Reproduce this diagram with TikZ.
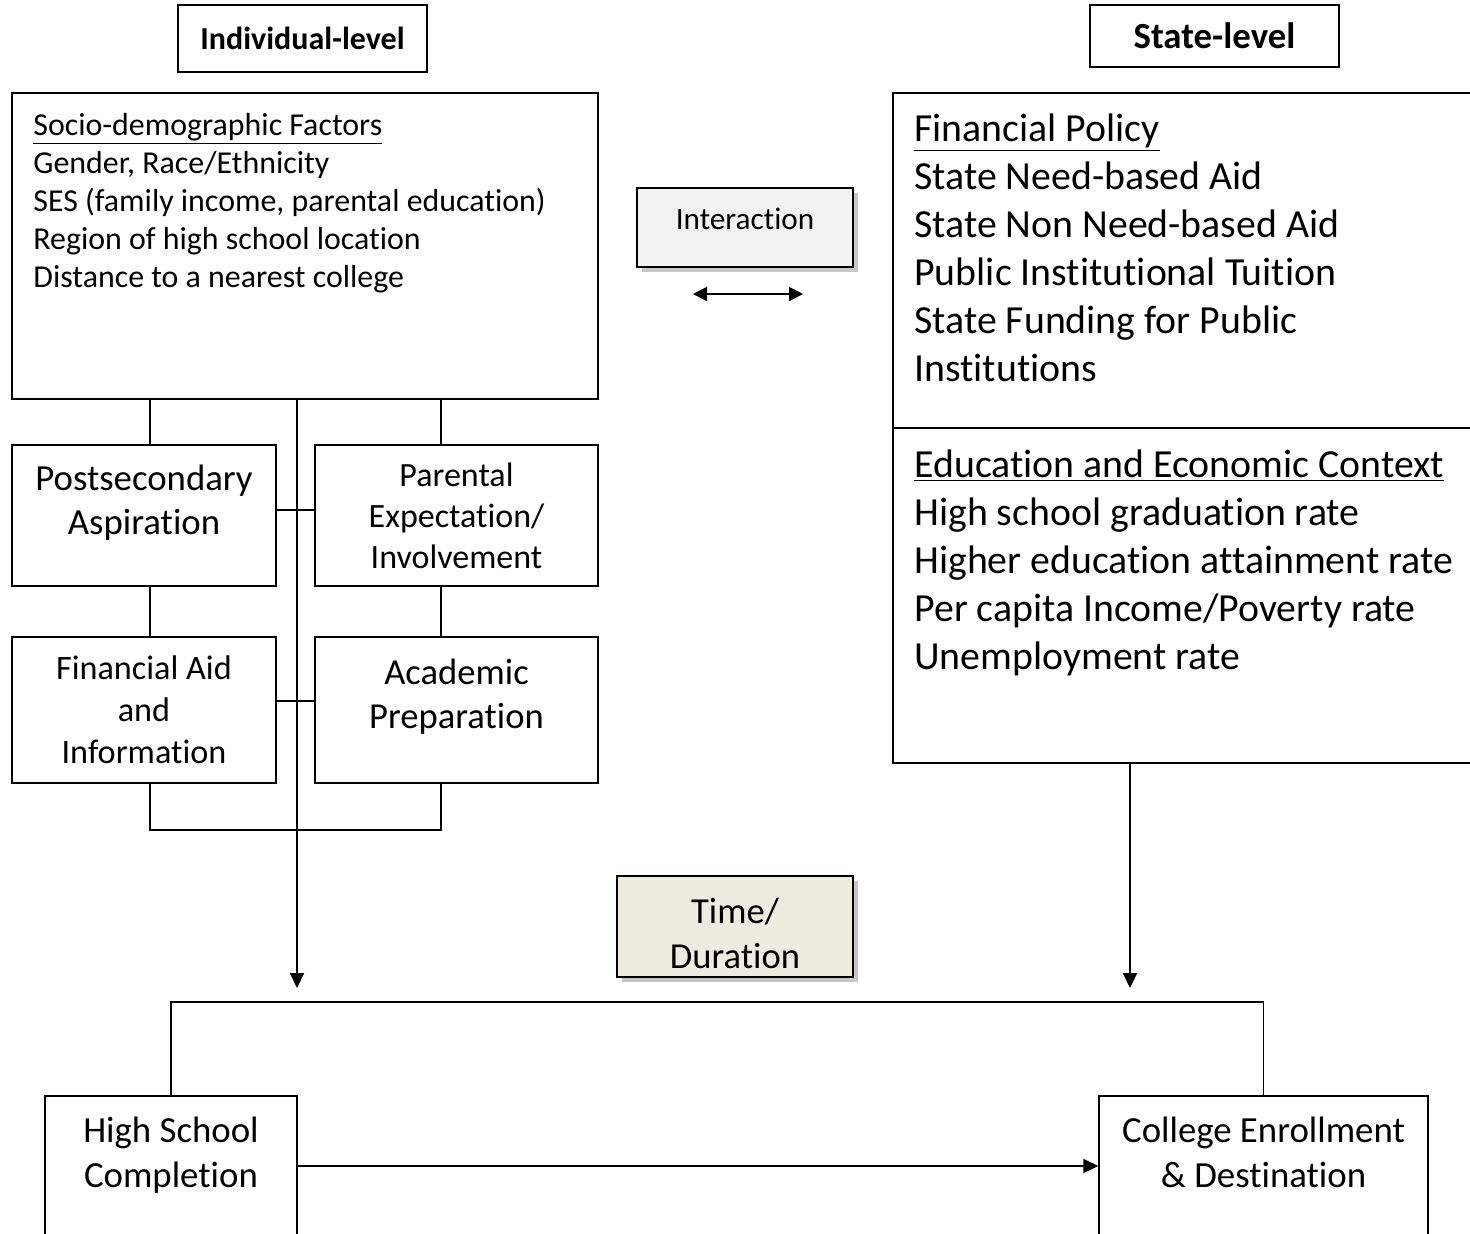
\documentclass[tikz,border=0pt]{standalone}
\usepackage{fontspec}
\setmainfont[Ligatures={NoCommon}]{Carlito}
\usetikzlibrary{positioning,arrows.meta,shadows}
\definecolor{intergray}{HTML}{F2F2F2}
\definecolor{timetan}{HTML}{EEECE1}

\begin{document}
\begin{tikzpicture}[x=0.5pt,y=-0.5pt]
\tikzstyle{box}=[draw, line width=0.75pt, inner sep=0pt, align=center]
\tikzstyle{txt}=[inner sep=0pt, align=left, anchor=north west]
\tikzstyle{shade}=[drop shadow={shadow xshift=2.5pt, shadow yshift=-2.5pt, fill=black!22, opacity=1}]
\tikzstyle{link}=[line width=0.75pt]
\tikzstyle{flow}=[line width=1pt, -{Triangle[length=7.5pt,width=7pt]}]

\useasboundingbox (0,0) rectangle (1470,1233);
\clip (0,0) rectangle (1470,1233);

% headers
\node[box, minimum width=124.5pt, minimum height=33.5pt, font=\bfseries\fontsize{16pt}{19pt}\selectfont] (ind) at (302.5,38.5) {Individual-level};
\node[box, minimum width=124.5pt, minimum height=31pt, font=\bfseries\fontsize{18.4pt}{22pt}\selectfont] (sta) at (1214.5,36) {State-level};

% individual level
\node[box, minimum width=293pt, minimum height=153pt] (soc) at (305,246) {};
\node[txt, font=\fontsize{15.95pt}{19pt}\selectfont] (soctxt) at (33,113) {\underline{Socio-demographic Factors}\\Gender, Race/Ethnicity\\SES (family income, parental education)\\Region of high school location\\Distance to a nearest college};
\node[box, minimum width=132pt, minimum height=70.5pt, text depth=15.4pt, font=\fontsize{18.4pt}{22pt}\selectfont] (post) at (144,515.5) {Postsecondary\\Aspiration};
\node[box, minimum width=141.5pt, minimum height=70.5pt, font=\fontsize{17pt}{20.5pt}\selectfont] (par) at (456.5,515.5) {Parental\\Expectation/\\Involvement};
\node[box, minimum width=132pt, minimum height=73pt, font=\fontsize{17.1pt}{21pt}\selectfont] (fa) at (144,710) {Financial Aid\\and\\Information};
\node[box, minimum width=141.5pt, minimum height=73pt, text depth=15.9pt, font=\fontsize{18.3pt}{22pt}\selectfont] (acad) at (456.5,710) {Academic\\Preparation};

% state level
\node[box, minimum width=303.5pt, minimum height=167.5pt] (fin) at (1196.5,260.5) {};
\node[box, minimum width=303.5pt, minimum height=167.5pt] (edu) at (1196.5,595.5) {};
\node[txt, font=\fontsize{19.9pt}{24pt}\selectfont] (fintxt) at (914,113) {\underline{Financial Policy}\\State Need-based Aid\\State Non Need-based Aid\\Public Institutional Tuition\\State Funding for Public\\Institutions};
\node[txt, font=\fontsize{19.9pt}{24pt}\selectfont] (edutxt) at (914,449) {\underline{Education and Economic Context}\\High school graduation rate\\Higher education attainment rate\\Per capita Income/Poverty rate\\Unemployment rate};

% middle
\node[box, shade, fill=intergray, minimum width=108pt, minimum height=39.5pt, text depth=9.2pt, font=\fontsize{15.6pt}{19pt}\selectfont] (inter) at (745,227.5) {Interaction};
\node[box, shade, fill=timetan, minimum width=118pt, minimum height=50.5pt, text height=42pt, text depth=0pt, font=\fontsize{18.3pt}{22.5pt}\selectfont] (time) at (735,926.5) {Time/\\Duration};

% outcomes
\node[box, minimum width=126pt, minimum height=82pt, text depth=25.4pt, font=\fontsize{18.4pt}{22.5pt}\selectfont] (hs) at (171,1178) {High School\\Completion};
\node[box, minimum width=164.5pt, minimum height=82pt, text depth=25.4pt, font=\fontsize{18.4pt}{22.5pt}\selectfont] (col) at (1263.5,1178) {College Enrollment\\\& Destination};

\coordinate (lx) at (150,0);
\coordinate (rx) at (441,0);
\coordinate (mx) at (297,0);
\coordinate (sx) at (1130,0);
\coordinate (rowA) at (0,510);
\coordinate (rowB) at (0,701);
\coordinate (bar) at (0,830);
\coordinate (tipL) at (297,988);
\coordinate (tipR) at (1130,988);
\coordinate (topline) at (0,1002);
\coordinate (rowC) at (0,1166);
\coordinate (il) at (693,294);
\coordinate (ir) at (803,294);

\foreach \i/\j in {soc/post,post/fa}{\draw[link] (\i.south -| lx) -- (\j.north -| lx);}
\foreach \i/\j in {soc/par,par/acad}{\draw[link] (\i.south -| rx) -- (\j.north -| rx);}
\draw[link] (post.east |- rowA) -- (par.west |- rowA);
\draw[link] (fa.east |- rowB) -- (acad.west |- rowB);
\draw[link] (fa.south -| lx) -- (bar -| lx) -- (bar -| rx) -- (acad.south -| rx);
\draw[flow] (soc.south -| mx) -- (tipL);
\draw[flow] (edu.south -| sx) -- (tipR);
\draw[line width=1pt, {Triangle[length=7pt,width=7pt]}-{Triangle[length=7pt,width=7pt]}] (il) -- (ir);
\draw[link] (hs.north) -- (hs.north |- topline) -- (col.north |- topline) -- (col.north);
\draw[flow] (hs.east |- rowC) -- (col.west |- rowC);
\end{tikzpicture}
\end{document}
